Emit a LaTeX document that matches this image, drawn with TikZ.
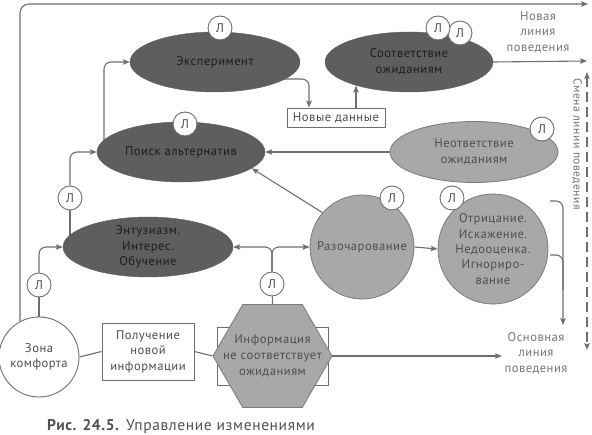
\documentclass[tikz,border=0pt]{standalone}
\usepackage{fontspec}
\setmainfont{PT Sans}[LetterSpace=4]
\usetikzlibrary{shapes.geometric,arrows.meta,backgrounds}
\definecolor{linec}{HTML}{6E6E6E}
\definecolor{darkfill}{HTML}{5E5E5E}
\definecolor{lightfill}{HTML}{A8A8A8}
\definecolor{lightborder}{HTML}{7A7A7A}
\definecolor{textdark}{HTML}{1C1C1C}
\definecolor{greytext}{HTML}{4E4E4E}
\definecolor{labeltext}{HTML}{767676}
\definecolor{captext}{HTML}{505050}
\begin{document}
\begin{tikzpicture}[x=1pt,y=-1pt,
  font=\fontsize{12.6}{15.4}\selectfont,
  conn/.style={draw=linec, line width=1.1pt},
  arr/.style={-{Stealth[length=7pt,width=5.5pt,inset=1.5pt]}},
  darkell/.style={ellipse, fill=darkfill, draw=darkfill, minimum width=170, minimum height=60, inner sep=0, text=textdark, align=center},
  lightell/.style={ellipse, fill=lightfill, draw=lightborder, line width=0.8pt, minimum width=168, minimum height=61, inner sep=0, text=greytext, align=center},
  lightcirc/.style={circle, fill=lightfill, draw=lightborder, line width=0.8pt, inner sep=0, text=greytext, align=center},
  lc/.style={circle, draw=linec, fill=white, line width=0.9pt, minimum size=24, inner sep=0, text=greytext},
  wbox/.style={rectangle, draw=linec, fill=white, line width=0.9pt, inner sep=0, text=greytext, align=center},
  txt/.style={align=center, inner sep=0},
  lbl/.style={align=center, inner sep=0, text=labeltext}
]
\useasboundingbox (0,0) rectangle (592,435);

% main shapes
\node[circle, draw=linec, fill=white, line width=0.9pt, minimum size=80, inner sep=0, align=center, text=greytext] (zona) at (39,357) {Зона\\комфорта};
\node[wbox, minimum width=92, minimum height=57] (pol) at (148,351.5) {Получение\\новой\\информации};
\node[draw=linec, fill=white, line width=0.9pt, minimum width=111, minimum height=58, inner sep=0] (hexbg) at (272.5,356) {};
\node[regular polygon, regular polygon sides=6, minimum size=119, inner sep=0, fill=lightfill, draw=lightborder, line width=0.8pt] (hex) at (272.5,356) {};
\node[txt, text=greytext, font=\fontsize{12.6}{16}\selectfont] (hextxt) at (hex.center) {Информация\\не соответствует\\ожиданиям};

\node[darkell] (entuz) at (148,247) {};
\node[txt, text=textdark] (entuztxt) at (entuz.center) {Энтузиазм.\\Интерес.\\Обучение};
\node[darkell, minimum width=168] (poisk) at (181,152) {Поиск альтернатив};
\node[darkell] (exper) at (215,62) {Эксперимент};
\node[darkell, minimum width=168] (sootv) at (409,62) {Соответствие\\ожиданиям};
\node[wbox, minimum width=98, minimum height=19] (nd) at (336,117.5) {Новые данные};
\node[lightell] (neotv) at (474,152) {Неответствие\\ожиданиям};
\node[lightcirc, minimum size=104] (razoch) at (362,247) {Разочарование};
\node[lightcirc, minimum size=110] (otric) at (493,249) {};
\node[txt, text=greytext] (otrictxt) at (otric.center) {Отрицание.\\Искажение.\\Недооценка.\\Игнориро-\\вание};

% L circles
\node[lc] (l1) at (39,285) {Л};
\node[lc] (l2) at (70,198) {Л};
\node[lc] (l3) at (185,124) {Л};
\node[lc] (l4) at (220,28) {Л};
\node[lc] (l6) at (460,33) {Л};
\node[lc] (l5) at (438,28) {Л};
\node[lc] (l7) at (542,129) {Л};
\node[lc] (l8) at (392,198) {Л};
\node[lc] (l9) at (452,198) {Л};
\node[lc] (l10) at (272,284) {Л};

% labels
\node[lbl] (nova) at (538,32) {Новая\\линия\\поведения};
\node[lbl] (osn) at (536,353) {Основная\\линия\\поведения};
\node[lbl, rotate=-90, font=\fontsize{11.6}{14}\selectfont] (smena) at (577,144) {Смена линии поведения};
\node[anchor=base west, inner sep=0, text=captext, font=\fontsize{15.5}{18}\selectfont] (cap) at (47,431) {\textbf{Рис. 24.5.} Управление изменениями};

% coordinates
\coordinate (topend) at (588,4);
\coordinate (novend) at (587,61);
\coordinate (osnend) at (502,356);
\coordinate (p1) at (104,152);
\coordinate (e1) at (260,79);
\coordinate (b1) at (550,201);
\coordinate (b2) at (550,255);
\coordinate (b3) at (563,325);
\coordinate (b4) at (563,290);
\coordinate (d1) at (587,72);
\coordinate (d2) at (587,350);

\begin{scope}[on background layer]
\draw[conn, arr, rounded corners=9] (zona.118) |- (topend);
\draw[conn] (zona) -- (l1);
\draw[conn, arr, rounded corners=7] (l1.north) |- (entuz.west);
\draw[conn] (l2.south) -- (l2.south |- entuz.center);
\draw[conn, arr, rounded corners=7] (l2.north) |- (poisk.west);
\draw[conn, arr, rounded corners=7] (p1) |- (exper.west);
\draw[conn, arr, rounded corners=7] (e1) -| ([xshift=-27pt]nd.north);
\draw[conn, arr] ([xshift=20pt]nd.north) -- ([xshift=20pt]nd.north |- sootv.204);
\draw[conn, arr] (sootv.east) -- (novend);
\draw[conn, arr] (neotv.west) -- (poisk.east);
\draw[conn, arr] (razoch.139) -- (poisk.-13);
\draw[conn, arr] (razoch.east) -- (otric.west);
\draw[conn] (hex.north) -- (l10);
\draw[conn, arr, rounded corners=7] (l10.north) |- (entuz.east);
\draw[conn, arr, rounded corners=7] (l10.north) |- (razoch.west);
\draw[conn] (zona.east) -- (pol.west);
\draw[conn] (pol.east) -- (hex.west);
\draw[conn, arr] (hex.east) -- (osnend);
\draw[conn, arr, rounded corners=7] (b1) -| (b3);
\draw[conn, rounded corners=7] (b2) -| (b4);
\draw[conn, dash pattern=on 10pt off 5pt, {Stealth[length=7pt,width=5.5pt,inset=1.5pt]}-{Stealth[length=7pt,width=5.5pt,inset=1.5pt]}] (d1) -- (d2);
\end{scope}
\end{tikzpicture}
\end{document}
